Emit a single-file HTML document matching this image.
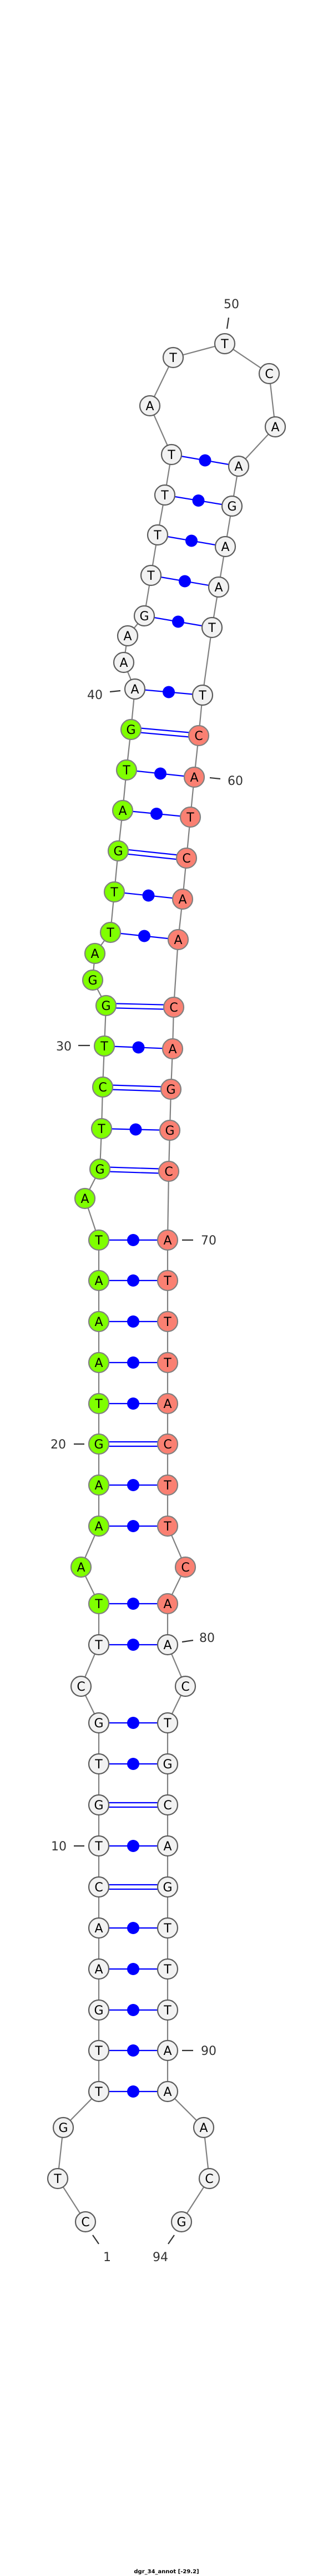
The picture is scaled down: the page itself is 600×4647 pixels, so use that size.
<!DOCTYPE html>
<html><head><meta charset="utf-8"><style>
html,body{margin:0;padding:0;background:#fff;width:600px;height:4647px;overflow:hidden}
svg{display:block}
.bb{fill:none;stroke:#808080;stroke-width:2.2}
.p{stroke:#0000ff;stroke-width:2.2}
.d{fill:#0000ff}
.w{fill:#f2f2f2;stroke:#5c5c5c;stroke-width:2.2}
.g{fill:#7fff00;stroke:#808080;stroke-width:2.2}
.s{fill:#fa8072;stroke:#808080;stroke-width:2.2}
.t text{font-family:"DejaVu Sans","Liberation Sans",sans-serif;font-size:22px;text-anchor:middle;fill:#000}
.l{font-family:"DejaVu Sans","Liberation Sans",sans-serif;font-size:22px;fill:#333;text-anchor:middle}
.tk{stroke:#333;stroke-width:2.2}
</style></head><body>
<svg width="600" height="4647" viewBox="0 0 600 4647" xmlns="http://www.w3.org/2000/svg">
<polyline class="bb" points="154,4008 104,3930 114,3838 178,3773 178,3699 178,3626 178,3552 178,3478 178,3404 178,3330 178,3256 178,3182 178,3108 146,3042 178,2967 178,2893 146,2827 178,2753 178,2679 178,2605 178,2532 178,2458 178,2384 178,2310 178,2237 153,2162 180,2109 183,2036 185,1961 188,1887 191,1814 167,1768 171,1720 199,1682 206,1609 213,1535 221,1462 228,1389 236,1316 243,1243 223,1195 230,1147 260,1111 272,1038 284,965 297,893 309,820 270,732 312,645 405,620 485,674 496,770 430,841 418,913 406,986 394,1059 382,1132 365,1254 358,1327 350,1402 343,1474 336,1548 329,1622 321,1695 313,1817 311,1892 308,1965 306,2039 304,2113 302,2237 302,2310 302,2384 302,2458 302,2532 302,2605 302,2679 302,2753 334,2827 302,2893 302,2967 334,3042 302,3108 302,3182 302,3256 302,3330 302,3404 302,3478 302,3552 302,3626 302,3699 302,3773 367,3838 377,3930 327,4008"/>
<!-- single pairs -->
<g class="p">
<line x1="178" y1="3773" x2="302" y2="3773"/><line x1="178" y1="3699" x2="302" y2="3699"/><line x1="178" y1="3626" x2="302" y2="3626"/><line x1="178" y1="3552" x2="302" y2="3552"/><line x1="178" y1="3478" x2="302" y2="3478"/><line x1="178" y1="3330" x2="302" y2="3330"/><line x1="178" y1="3182" x2="302" y2="3182"/><line x1="178" y1="3108" x2="302" y2="3108"/><line x1="178" y1="2967" x2="302" y2="2967"/><line x1="178" y1="2893" x2="302" y2="2893"/><line x1="178" y1="2753" x2="302" y2="2753"/><line x1="178" y1="2679" x2="302" y2="2679"/><line x1="178" y1="2532" x2="302" y2="2532"/><line x1="178" y1="2458" x2="302" y2="2458"/><line x1="178" y1="2384" x2="302" y2="2384"/><line x1="178" y1="2310" x2="302" y2="2310"/><line x1="178" y1="2237" x2="302" y2="2237"/>
<line x1="183" y1="2036" x2="306" y2="2039"/><line x1="188" y1="1887" x2="311" y2="1892"/><line x1="199" y1="1682" x2="321" y2="1695"/><line x1="206" y1="1609" x2="329" y2="1622"/><line x1="221" y1="1462" x2="343" y2="1474"/><line x1="228" y1="1389" x2="350" y2="1402"/><line x1="243" y1="1243" x2="365" y2="1254"/><line x1="260" y1="1111" x2="382" y2="1132"/><line x1="272" y1="1038" x2="394" y2="1059"/><line x1="284" y1="965" x2="406" y2="986"/><line x1="297" y1="893" x2="418" y2="913"/><line x1="309" y1="820" x2="430" y2="841"/>
<!-- double pairs -->
<line x1="178" y1="3400" x2="302" y2="3400"/><line x1="178" y1="3408" x2="302" y2="3408"/>
<line x1="178" y1="3252" x2="302" y2="3252"/><line x1="178" y1="3260" x2="302" y2="3260"/>
<line x1="178" y1="2601" x2="302" y2="2601"/><line x1="178" y1="2609" x2="302" y2="2609"/>
<line x1="180" y1="2105" x2="304" y2="2109"/><line x1="180" y1="2113" x2="304" y2="2117"/>
<line x1="185" y1="1957" x2="308" y2="1961"/><line x1="185" y1="1965" x2="308" y2="1969"/>
<line x1="191" y1="1810" x2="313" y2="1813"/><line x1="191" y1="1818" x2="313" y2="1821"/>
<line x1="213" y1="1531" x2="336" y2="1544"/><line x1="213" y1="1539" x2="336" y2="1552"/>
<line x1="236" y1="1312" x2="358" y2="1323"/><line x1="236" y1="1320" x2="358" y2="1331"/>
</g>
<g class="d">
<circle cx="240" cy="3773" r="11"/><circle cx="240" cy="3699" r="11"/><circle cx="240" cy="3626" r="11"/><circle cx="240" cy="3552" r="11"/><circle cx="240" cy="3478" r="11"/><circle cx="240" cy="3330" r="11"/><circle cx="240" cy="3182" r="11"/><circle cx="240" cy="3108" r="11"/><circle cx="240" cy="2967" r="11"/><circle cx="240" cy="2893" r="11"/><circle cx="240" cy="2753" r="11"/><circle cx="240" cy="2679" r="11"/><circle cx="240" cy="2532" r="11"/><circle cx="240" cy="2458" r="11"/><circle cx="240" cy="2384" r="11"/><circle cx="240" cy="2310" r="11"/><circle cx="240" cy="2237" r="11"/>
<circle cx="244.5" cy="2037.5" r="11"/><circle cx="249.5" cy="1889.5" r="11"/><circle cx="260" cy="1688.5" r="11"/><circle cx="267.5" cy="1615.5" r="11"/><circle cx="282" cy="1468" r="11"/><circle cx="289" cy="1395.5" r="11"/><circle cx="304" cy="1248.5" r="11"/><circle cx="321" cy="1121.5" r="11"/><circle cx="333" cy="1048.5" r="11"/><circle cx="345" cy="975.5" r="11"/><circle cx="357.5" cy="903" r="11"/><circle cx="369.5" cy="830.5" r="11"/>
</g>
<!-- ticks & labels -->
<g class="tk">
<line x1="412" y1="573" x2="409" y2="593"/>
<line x1="198" y1="1248" x2="217" y2="1246"/>
<line x1="378" y1="1403" x2="397" y2="1405"/>
<line x1="141" y1="1886" x2="162" y2="1886"/>
<line x1="328" y1="2237" x2="348" y2="2237"/>
<line x1="133" y1="2605" x2="152" y2="2605"/>
<line x1="328" y1="2962" x2="348" y2="2959"/>
<line x1="133" y1="3330" x2="152" y2="3330"/>
<line x1="328" y1="3699" x2="348" y2="3699"/>
<line x1="167" y1="4032" x2="178" y2="4048"/>
<line x1="314" y1="4032" x2="303" y2="4048"/>
</g>
<text class="l" x="417" y="556">50</text>
<text class="l" x="171" y="1261">40</text>
<text class="l" x="424" y="1416">60</text>
<text class="l" x="115" y="1895">30</text>
<text class="l" x="376" y="2245">70</text>
<text class="l" x="105" y="2613">20</text>
<text class="l" x="373" y="2962">80</text>
<text class="l" x="106" y="3338">10</text>
<text class="l" x="376" y="3707">90</text>
<text class="l" x="193" y="4079">1</text>
<text class="l" x="289" y="4079">94</text>
<!-- nodes -->
<g>
<circle class="w" cx="154" cy="4008" r="18"/><circle class="w" cx="104" cy="3930" r="18"/><circle class="w" cx="114" cy="3838" r="18"/>
<circle class="w" cx="178" cy="3773" r="18"/><circle class="w" cx="178" cy="3699" r="18"/><circle class="w" cx="178" cy="3626" r="18"/><circle class="w" cx="178" cy="3552" r="18"/><circle class="w" cx="178" cy="3478" r="18"/><circle class="w" cx="178" cy="3404" r="18"/><circle class="w" cx="178" cy="3330" r="18"/><circle class="w" cx="178" cy="3256" r="18"/><circle class="w" cx="178" cy="3182" r="18"/><circle class="w" cx="178" cy="3108" r="18"/><circle class="w" cx="146" cy="3042" r="18"/><circle class="w" cx="178" cy="2967" r="18"/>
<circle class="g" cx="178" cy="2893" r="18"/><circle class="g" cx="146" cy="2827" r="18"/><circle class="g" cx="178" cy="2753" r="18"/><circle class="g" cx="178" cy="2679" r="18"/><circle class="g" cx="178" cy="2605" r="18"/><circle class="g" cx="178" cy="2532" r="18"/><circle class="g" cx="178" cy="2458" r="18"/><circle class="g" cx="178" cy="2384" r="18"/><circle class="g" cx="178" cy="2310" r="18"/><circle class="g" cx="178" cy="2237" r="18"/><circle class="g" cx="153" cy="2162" r="18"/><circle class="g" cx="180" cy="2109" r="18"/><circle class="g" cx="183" cy="2036" r="18"/><circle class="g" cx="185" cy="1961" r="18"/><circle class="g" cx="188" cy="1887" r="18"/><circle class="g" cx="191" cy="1814" r="18"/><circle class="g" cx="167" cy="1768" r="18"/><circle class="g" cx="171" cy="1720" r="18"/><circle class="g" cx="199" cy="1682" r="18"/><circle class="g" cx="206" cy="1609" r="18"/><circle class="g" cx="213" cy="1535" r="18"/><circle class="g" cx="221" cy="1462" r="18"/><circle class="g" cx="228" cy="1389" r="18"/><circle class="g" cx="236" cy="1316" r="18"/>
<circle class="w" cx="243" cy="1243" r="18"/><circle class="w" cx="223" cy="1195" r="18"/><circle class="w" cx="230" cy="1147" r="18"/><circle class="w" cx="260" cy="1111" r="18"/><circle class="w" cx="272" cy="1038" r="18"/><circle class="w" cx="284" cy="965" r="18"/><circle class="w" cx="297" cy="893" r="18"/><circle class="w" cx="309" cy="820" r="18"/><circle class="w" cx="270" cy="732" r="18"/><circle class="w" cx="312" cy="645" r="18"/><circle class="w" cx="405" cy="620" r="18"/><circle class="w" cx="485" cy="674" r="18"/><circle class="w" cx="496" cy="770" r="18"/><circle class="w" cx="430" cy="841" r="18"/><circle class="w" cx="418" cy="913" r="18"/><circle class="w" cx="406" cy="986" r="18"/><circle class="w" cx="394" cy="1059" r="18"/><circle class="w" cx="382" cy="1132" r="18"/><circle class="w" cx="365" cy="1254" r="18"/>
<circle class="s" cx="358" cy="1327" r="18"/><circle class="s" cx="350" cy="1402" r="18"/><circle class="s" cx="343" cy="1474" r="18"/><circle class="s" cx="336" cy="1548" r="18"/><circle class="s" cx="329" cy="1622" r="18"/><circle class="s" cx="321" cy="1695" r="18"/><circle class="s" cx="313" cy="1817" r="18"/><circle class="s" cx="311" cy="1892" r="18"/><circle class="s" cx="308" cy="1965" r="18"/><circle class="s" cx="306" cy="2039" r="18"/><circle class="s" cx="304" cy="2113" r="18"/><circle class="s" cx="302" cy="2237" r="18"/><circle class="s" cx="302" cy="2310" r="18"/><circle class="s" cx="302" cy="2384" r="18"/><circle class="s" cx="302" cy="2458" r="18"/><circle class="s" cx="302" cy="2532" r="18"/><circle class="s" cx="302" cy="2605" r="18"/><circle class="s" cx="302" cy="2679" r="18"/><circle class="s" cx="302" cy="2753" r="18"/><circle class="s" cx="334" cy="2827" r="18"/><circle class="s" cx="302" cy="2893" r="18"/>
<circle class="w" cx="302" cy="2967" r="18"/><circle class="w" cx="334" cy="3042" r="18"/><circle class="w" cx="302" cy="3108" r="18"/><circle class="w" cx="302" cy="3182" r="18"/><circle class="w" cx="302" cy="3256" r="18"/><circle class="w" cx="302" cy="3330" r="18"/><circle class="w" cx="302" cy="3404" r="18"/><circle class="w" cx="302" cy="3478" r="18"/><circle class="w" cx="302" cy="3552" r="18"/><circle class="w" cx="302" cy="3626" r="18"/><circle class="w" cx="302" cy="3699" r="18"/><circle class="w" cx="302" cy="3773" r="18"/><circle class="w" cx="367" cy="3838" r="18"/><circle class="w" cx="377" cy="3930" r="18"/><circle class="w" cx="327" cy="4008" r="18"/>
</g>
<g class="t">
<text x="154" y="4016">C</text><text x="104" y="3938">T</text><text x="114" y="3846">G</text>
<text x="178" y="3781">T</text><text x="178" y="3707">T</text><text x="178" y="3634">G</text><text x="178" y="3560">A</text><text x="178" y="3486">A</text><text x="178" y="3412">C</text><text x="178" y="3338">T</text><text x="178" y="3264">G</text><text x="178" y="3190">T</text><text x="178" y="3116">G</text><text x="146" y="3050">C</text><text x="178" y="2975">T</text>
<text x="178" y="2901">T</text><text x="146" y="2835">A</text><text x="178" y="2761">A</text><text x="178" y="2687">A</text><text x="178" y="2613">G</text><text x="178" y="2540">T</text><text x="178" y="2466">A</text><text x="178" y="2392">A</text><text x="178" y="2318">A</text><text x="178" y="2245">T</text><text x="153" y="2170">A</text><text x="180" y="2117">G</text><text x="183" y="2044">T</text><text x="185" y="1969">C</text><text x="188" y="1895">T</text><text x="191" y="1822">G</text><text x="167" y="1776">G</text><text x="171" y="1728">A</text><text x="199" y="1690">T</text><text x="206" y="1617">T</text><text x="213" y="1543">G</text><text x="221" y="1470">A</text><text x="228" y="1397">T</text><text x="236" y="1324">G</text>
<text x="243" y="1251">A</text><text x="223" y="1203">A</text><text x="230" y="1155">A</text><text x="260" y="1119">G</text><text x="272" y="1046">T</text><text x="284" y="973">T</text><text x="297" y="901">T</text><text x="309" y="828">T</text><text x="270" y="740">A</text><text x="312" y="653">T</text><text x="405" y="628">T</text><text x="485" y="682">C</text><text x="496" y="778">A</text><text x="430" y="849">A</text><text x="418" y="921">G</text><text x="406" y="994">A</text><text x="394" y="1067">A</text><text x="382" y="1140">T</text><text x="365" y="1262">T</text>
<text x="358" y="1335">C</text><text x="350" y="1410">A</text><text x="343" y="1482">T</text><text x="336" y="1556">C</text><text x="329" y="1630">A</text><text x="321" y="1703">A</text><text x="313" y="1825">C</text><text x="311" y="1900">A</text><text x="308" y="1973">G</text><text x="306" y="2047">G</text><text x="304" y="2121">C</text><text x="302" y="2245">A</text><text x="302" y="2318">T</text><text x="302" y="2392">T</text><text x="302" y="2466">T</text><text x="302" y="2540">A</text><text x="302" y="2613">C</text><text x="302" y="2687">T</text><text x="302" y="2761">T</text><text x="334" y="2835">C</text><text x="302" y="2901">A</text>
<text x="302" y="2975">A</text><text x="334" y="3050">C</text><text x="302" y="3116">T</text><text x="302" y="3190">G</text><text x="302" y="3264">C</text><text x="302" y="3338">A</text><text x="302" y="3412">G</text><text x="302" y="3486">T</text><text x="302" y="3560">T</text><text x="302" y="3634">T</text><text x="302" y="3707">A</text><text x="302" y="3781">A</text><text x="367" y="3846">A</text><text x="377" y="3938">C</text><text x="327" y="4016">G</text>
</g>
<text x="300" y="4642" style="font-family:'DejaVu Sans','Liberation Sans',sans-serif;font-size:10px;font-weight:bold;text-anchor:middle;fill:#000">dgr_34_annot [-29.2]</text>
</svg>
</body></html>
